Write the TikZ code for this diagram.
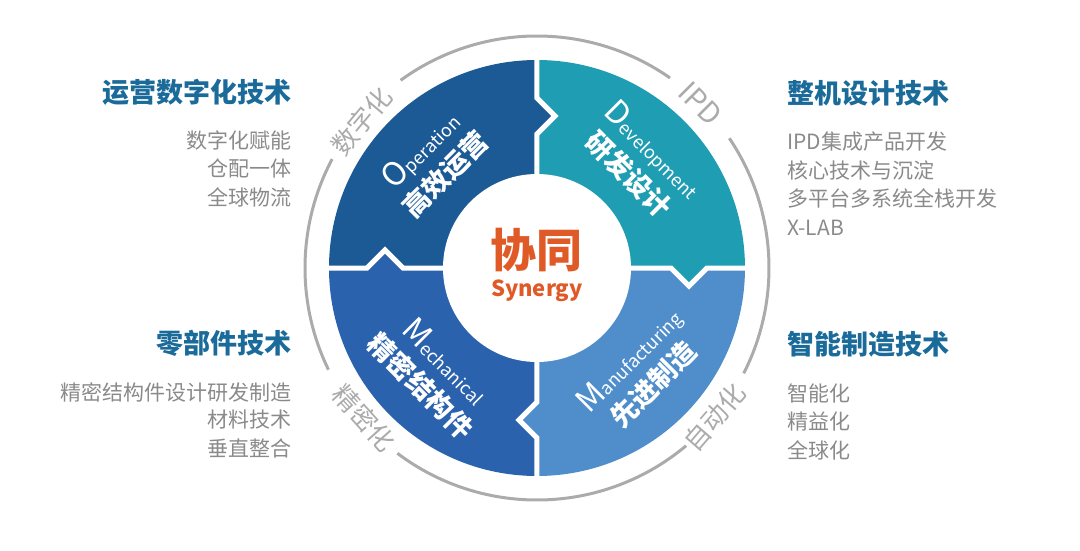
\documentclass[tikz,border=0pt]{standalone}
\usepackage{fontspec}
\setmainfont{Noto Sans CJK SC}
\definecolor{corOpe}{HTML}{1C5A96}
\definecolor{corDev}{HTML}{1E9DB3}
\definecolor{corMan}{HTML}{4F8ECB}
\definecolor{corMec}{HTML}{2A62AD}
\definecolor{corTit}{HTML}{1A6A9A}
\definecolor{corItem}{HTML}{8A8A8A}
\definecolor{corArco}{HTML}{ABABAB}
\definecolor{corLar}{HTML}{E05A28}
\tikzset{
  titulo/.style={font=\fontsize{27}{27}\selectfont\bfseries, text=corTit, inner sep=0pt},
  item/.style={font=\fontsize{21}{21}\selectfont, text=corItem, inner sep=0pt},
  rotulo/.style={font=\fontsize{26}{26}\selectfont, text=corArco, inner sep=0pt},
  setor/.style={font=\fontsize{27}{34}\selectfont, text=white, align=center, inner sep=0pt},
  junta/.style={white, line width=5pt, line join=miter},
  arco/.style={corArco, line width=3pt}
}
\newcommand{\grande}[2]{{\fontsize{32}{32}\selectfont #1}{\fontsize{18}{18}\selectfont #2}}
\begin{document}
\begin{tikzpicture}[x=1pt,y=1pt]
\useasboundingbox (-537,-282) rectangle (543,268);
%setores
  \fill[corDev] (0,0) -- (0:208) arc (0:90:208) -- cycle;
  \fill[corOpe] (0,0) -- (90:208) arc (90:180:208) -- cycle;
  \fill[corMec] (0,0) -- (180:208) arc (180:270:208) -- cycle;
  \fill[corMan] (0,0) -- (270:208) arc (270:360:208) -- cycle;
%encaixes
  \fill[corOpe] (0,170) -- (18,152) -- (0,134) -- cycle;
  \fill[corDev] (134,0) -- (152,-18) -- (170,0) -- cycle;
  \fill[corMan] (0,-134) -- (-18,-152) -- (0,-170) -- cycle;
  \fill[corMec] (-170,0) -- (-152,18) -- (-134,0) -- cycle;
%juntas
  \draw[junta] (0,214) -- (0,170) -- (18,152) -- (0,134) -- (0,0);
  \draw[junta] (214,0) -- (170,0) -- (152,-18) -- (134,0) -- (0,0);
  \draw[junta] (0,-214) -- (0,-170) -- (-18,-152) -- (0,-134) -- (0,0);
  \draw[junta] (-214,0) -- (-170,0) -- (-152,18) -- (-134,0) -- (0,0);
%circulo central
  \fill[white] (0,0) circle (94);
  \node[font=\fontsize{46}{46}\selectfont\bfseries, text=corLar, inner sep=0pt] (xietong) at (0,18) {协同};
  \node[font=\fontsize{22}{22}\selectfont\bfseries, text=corLar, inner sep=0pt] (synergy) at (0,-23) {Synergy};
%textos dos setores
  \node[setor, rotate=45] (operation) at (-104,106) {\grande{O}{peration}\\{\bfseries 高效运营}};
  \node[setor, rotate=-45] (development) at (104,106) {\grande{D}{evelopment}\\{\bfseries 研发设计}};
  \node[setor, rotate=45] (manufacturing) at (104,-104) {\grande{M}{anufacturing}\\{\bfseries 先进制造}};
  \node[setor, rotate=-45] (mechanical) at (-104,-106) {\grande{M}{echanical}\\{\bfseries 精密结构件}};
%arco externo
  \draw[arco] (55:232) arc (55:126:232);
  \draw[arco] (152:232) arc (152:206:232);
  \draw[arco] (233:232) arc (233:310:232);
  \draw[arco] (-27:232) arc (-27:34:232);
  \node[rotulo, rotate=50] (digital) at (140:229) {数字化};
  \node[rotulo, rotate=-45, font=\fontsize{29}{29}\selectfont] (ipd) at (45:232) {IPD};
  \node[rotulo, rotate=49] (automacao) at (-40:232) {自动化};
  \node[rotulo, rotate=-48] (precisao) at (-139:229) {精密化};
%blocos laterais
  \node[titulo, anchor=east] (tOpe) at (-245,176) {运营数字化技术};
  \node[item, anchor=east] (iOpeA) at (-245,128) {数字化赋能};
  \node[item, anchor=east] (iOpeB) at (-245,100) {仓配一体};
  \node[item, anchor=east] (iOpeC) at (-245,71) {全球物流};

  \node[titulo, anchor=west] (tDev) at (250,175) {整机设计技术};
  \node[item, anchor=west] (iDevA) at (250,126) {IPD集成产品开发};
  \node[item, anchor=west] (iDevB) at (250,98) {核心技术与沉淀};
  \node[item, anchor=west] (iDevC) at (250,70) {多平台多系统全栈开发};
  \node[item, anchor=west] (iDevD) at (250,40) {X-LAB};

  \node[titulo, anchor=east] (tMec) at (-245,-75) {零部件技术};
  \node[item, anchor=east] (iMecA) at (-245,-124) {精密结构件设计研发制造};
  \node[item, anchor=east] (iMecB) at (-245,-152) {材料技术};
  \node[item, anchor=east] (iMecC) at (-245,-180) {垂直整合};

  \node[titulo, anchor=west] (tMan) at (250,-76) {智能制造技术};
  \node[item, anchor=west] (iManA) at (250,-125) {智能化};
  \node[item, anchor=west] (iManB) at (250,-154) {精益化};
  \node[item, anchor=west] (iManC) at (250,-182) {全球化};
\end{tikzpicture}
\end{document}
